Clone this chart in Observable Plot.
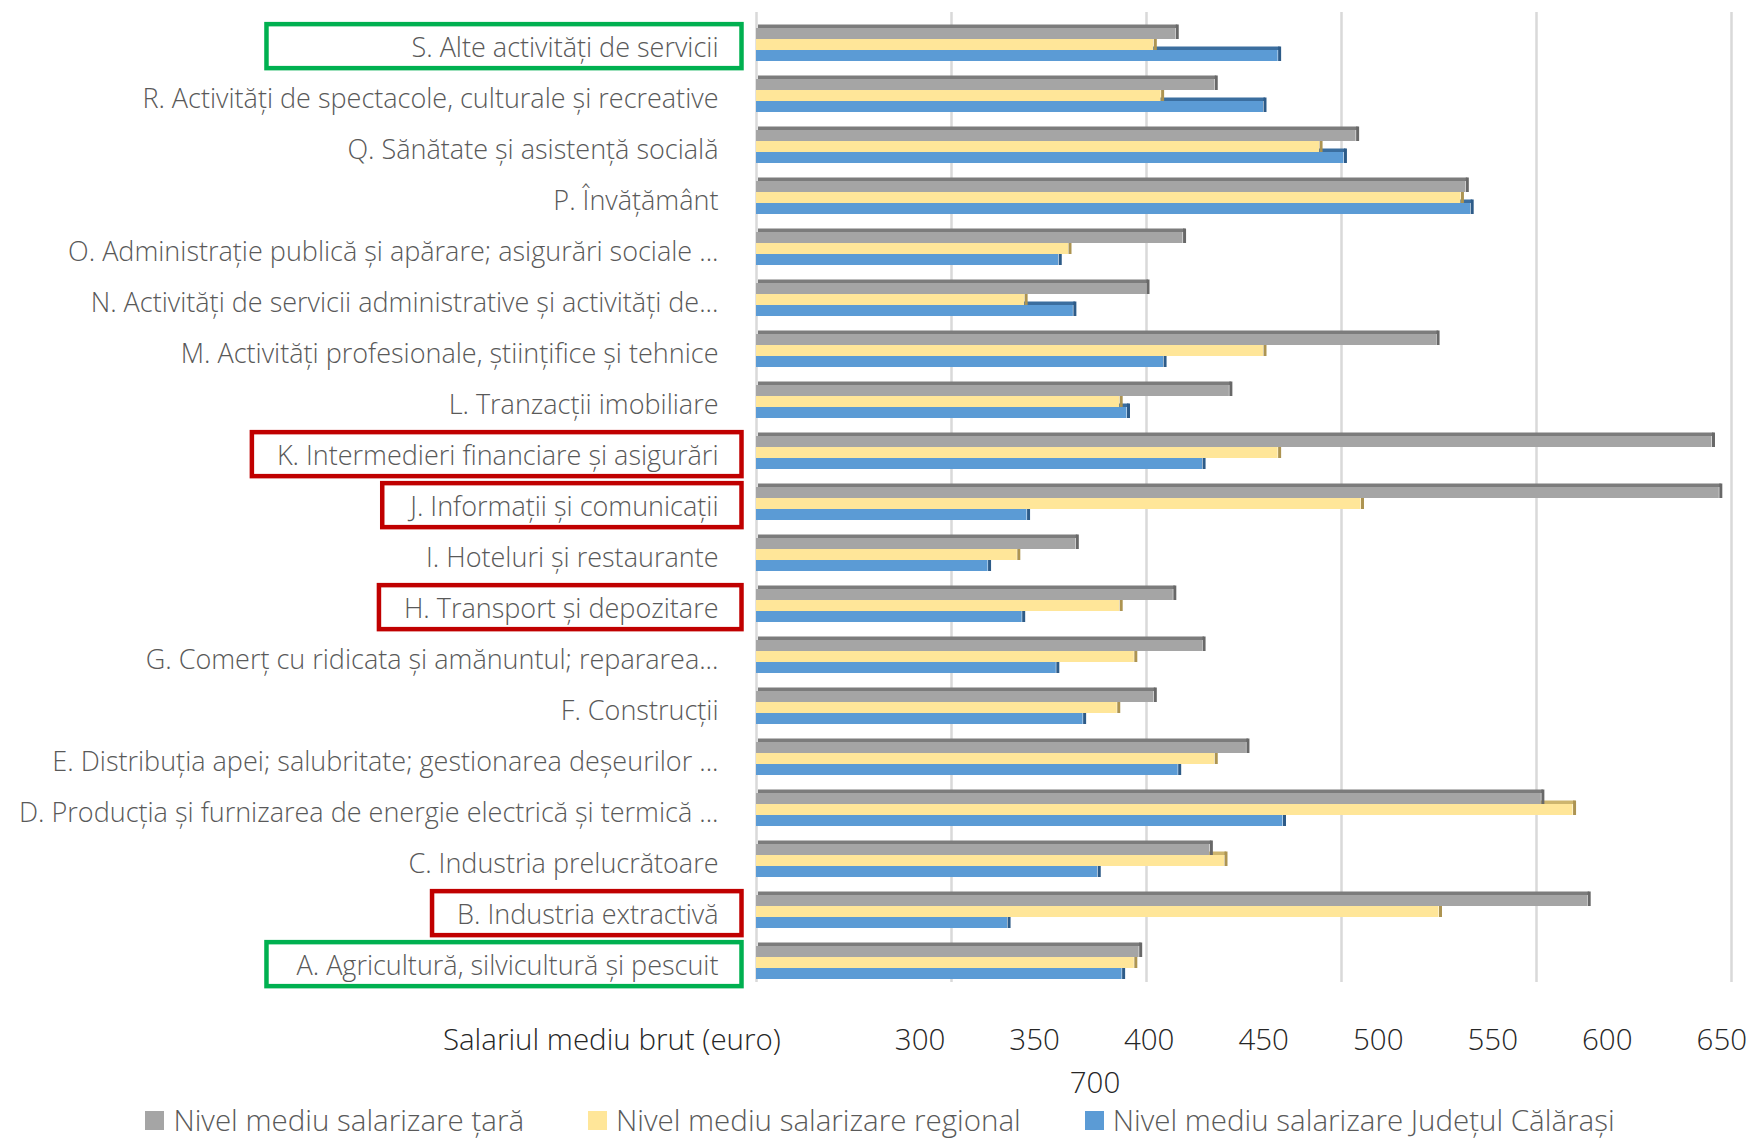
<!DOCTYPE html>
<html>
<head>
<meta charset="utf-8">
<script src="https://cdn.jsdelivr.net/npm/d3@7"></script>
<script src="https://cdn.jsdelivr.net/npm/@observablehq/plot@0.6"></script>
<style>
  html, body { margin: 0; padding: 0; background: #fff; }
  #chart { width: 1760px; height: 1140px; position: relative; overflow: hidden; font-family: "Open Sans", sans-serif; }
  #chart svg { display: block; }
  .axisrow { margin-left: 430px; width: 1330px; display: flex; flex-wrap: wrap; justify-content: center;
    column-gap: 64px; font-size: 29.5px; font-weight: 300; color: #262626; line-height: 43px; margin-top: 25px; }
  .axisrow .title { margin-right: 50px; }
  .legend { display: flex; justify-content: center; gap: 64px; font-size: 29.5px; font-weight: 300; color: #595959;
    line-height: 34px; margin-top: 0px; }
  .legend .item { display: flex; align-items: center; gap: 9px; }
  .legend .sw { width: 19px; height: 19px; display: inline-block; }
</style>
</head>
<body>
<div id="chart"></div>
<script>
// ---------- data ----------
const categories = [
  "A. Agricultură, silvicultură și pescuit",
  "B. Industria extractivă",
  "C. Industria prelucrătoare",
  "D. Producția și furnizarea de energie electrică și termică ...",
  "E. Distribuția apei; salubritate; gestionarea deșeurilor ...",
  "F. Construcții",
  "G. Comerț cu ridicata și amănuntul; repararea...",
  "H. Transport și depozitare",
  "I. Hoteluri și restaurante",
  "J. Informații și comunicații",
  "K. Intermedieri financiare și asigurări",
  "L. Tranzacții imobiliare",
  "M. Activități profesionale, științifice și tehnice",
  "N. Activități de servicii administrative și activități de...",
  "O. Administrație publică și apărare; asigurări sociale ...",
  "P. Învățământ",
  "Q. Sănătate și asistență socială",
  "R. Activități de spectacole, culturale și recreative",
  "S. Alte activități de servicii"
];
const seriesNames = [
  "Nivel mediu salarizare țară",
  "Nivel mediu salarizare regional",
  "Nivel mediu salarizare Județul Călărași"
];
const national = [457, 641, 486, 622, 501, 463, 483, 471, 431, 695, 692, 494, 579, 460, 475, 591, 546, 488, 472];
const regional = [455, 580, 492, 635, 488, 448, 455, 449, 407, 548, 514, 449, 508, 410, 428, 589, 531, 466, 463];
const county   = [450, 403, 440, 516, 473, 434, 423, 409, 395, 411, 483, 452, 467, 430, 424, 593, 541, 508, 514];
const tickLabels = [300, 350, 400, 450, 500, 550, 600, 650, 700];
const gridValues = [300, 380, 460, 540, 620, 700];
const axisTitle = "Salariul mediu brut (euro)";
const greenLabels = ["S. Alte activități de servicii", "A. Agricultură, silvicultură și pescuit"];
const redLabels = ["K. Intermedieri financiare și asigurări", "J. Informații și comunicații",
                   "H. Transport și depozitare", "B. Industria extractivă"];

// ---------- styles ----------
const colors = ["#a5a5a5", "#ffe699", "#5b9bd5"];
const topColors = ["#7c7c7c", "#cdb56e", "#3b6e9f"];
const sideColors = ["#686868", "#ad9451", "#2d5b88"];

const valuesBySeries = [national, regional, county];
const rows = categories.flatMap((c, k) => seriesNames.map((s, i) => ({category: c, series: s, i, value: valuesBySeries[i][k]})));

const xMin = d3.min(tickLabels), xMax = d3.max(tickLabels);
const yRange = [18.5, 987.5], pIn = 0.353, pOut = 0.176;
const step = (yRange[1] - yRange[0]) / (categories.length - pIn + 2 * pOut);
const bw = step * (1 - pIn);
const h = bw / 3, tf = 3.5;

const marks = [Plot.ruleX(gridValues, {stroke: "#d9d9d9", strokeWidth: 2.5})];
for (const i of [2, 1, 0]) {
  const d = rows.filter(r => r.i === i);
  marks.push(Plot.barX(d, {x1: xMin, x2: "value", y: "category", fill: topColors[i], dx: 2,
    insetTop: i * h - tf, insetBottom: bw - i * h}));
  marks.push(Plot.barX(d, {x1: xMin, x2: "value", y: "category", fill: colors[i],
    insetTop: i * h, insetBottom: (2 - i) * h}));
  marks.push(Plot.tickX(d, {x: "value", y: "category", stroke: sideColors[i], strokeWidth: 3, dx: 1.5,
    insetTop: i * h - tf, insetBottom: (2 - i) * h}));
}
marks.push(Plot.axisY({tickSize: 0, tickPadding: 38, label: null, dy: 3}));

const plot = Plot.plot({
  width: 1760,
  height: 992,
  marginTop: 12,
  marginBottom: 10,
  marginLeft: 756,
  marginRight: 29,
  style: {fontFamily: "Open Sans, sans-serif", fontSize: "27px", fontWeight: 300, color: "#595959", background: "#fff"},
  x: {domain: [xMin, xMax], axis: null},
  y: {domain: categories.slice().reverse(), range: yRange, paddingInner: pIn, paddingOuter: pOut, axis: null},
  marks
});

const chart = document.getElementById("chart");
chart.appendChild(plot);

// bottom axis text row (title + tick labels)
const axisRow = document.createElement("div");
axisRow.className = "axisrow";
[axisTitle, ...tickLabels.map(String)].forEach((t, k) => {
  const s = document.createElement("span"); s.textContent = t;
  if (k === 0) s.className = "title";
  axisRow.appendChild(s);
});
chart.appendChild(axisRow);

// legend
const legend = document.createElement("div");
legend.className = "legend";
seriesNames.forEach((s, i) => {
  const it = document.createElement("div"); it.className = "item";
  const sw = document.createElement("span"); sw.className = "sw"; sw.style.background = colors[i];
  const tx = document.createElement("span"); tx.textContent = s;
  it.appendChild(sw); it.appendChild(tx); legend.appendChild(it);
});
chart.appendChild(legend);

// highlight boxes around selected category labels
const svgRect = plot.getBoundingClientRect();
const labelTexts = Array.from(plot.querySelectorAll("text")).filter(t => categories.includes(t.textContent));
function boxFor(label) {
  const t = labelTexts.find(e => e.textContent === label);
  const r = t.getBoundingClientRect();
  return {left: r.left - svgRect.left, right: r.right - svgRect.left, cy: (r.top + r.bottom) / 2 - svgRect.top};
}
function drawBox(b, left, color) {
  const rect = document.createElementNS("http://www.w3.org/2000/svg", "rect");
  rect.setAttribute("x", left);
  rect.setAttribute("y", b.cy - 22);
  rect.setAttribute("width", b.right + 23 - left);
  rect.setAttribute("height", 44);
  rect.setAttribute("fill", "none");
  rect.setAttribute("stroke", color);
  rect.setAttribute("stroke-width", 4.5);
  plot.appendChild(rect);
}
const greenBoxes = greenLabels.map(boxFor);
const greenLeft = d3.min(greenBoxes, b => b.left) - 30;
greenBoxes.forEach(b => drawBox(b, greenLeft, "#00b050"));
redLabels.map(boxFor).forEach(b => drawBox(b, b.left - 25, "#c00000"));
</script>
</body>
</html>
